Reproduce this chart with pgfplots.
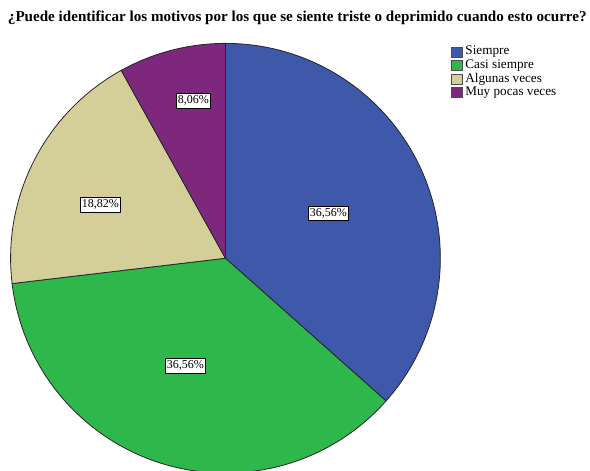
\documentclass[border=0pt]{standalone}
\usepackage{pgfplots}
\pgfplotsset{compat=1.18}
\usepackage{fontspec}
\setmainfont{Liberation Serif}
\definecolor{cSiempre}{RGB}{62,88,170}
\definecolor{cCasi}{RGB}{46,183,74}
\definecolor{cAlgunas}{RGB}{212,206,152}
\definecolor{cMuy}{RGB}{125,40,125}
% data: percentages
\def\pA{36.56}\def\pB{36.56}\def\pC{18.82}\def\pD{8.06}
\def\cx{225.6}\def\cy{212.6}\def\R{215}
\newcommand{\slice}[3]{%
  \filldraw[fill=#3, draw=black!85, line width=0.8pt, line join=round]
    (axis cs:\cx,\cy) -- ++(#1:\R pt)
    arc[start angle=#1, delta angle=-3.6*#2, radius=\R pt] -- cycle;}
\begin{document}
\begin{tikzpicture}
\pgfmathsetmacro{\aA}{90}
\pgfmathsetmacro{\aB}{90-3.6*\pA}
\pgfmathsetmacro{\aC}{\aB-3.6*\pB}
\pgfmathsetmacro{\aD}{\aC-3.6*\pC}
\begin{axis}[x=1pt, y=1pt, xmin=0, xmax=590, ymin=0, ymax=471,
  hide axis, clip=false]
\begin{scope}
\clip (axis cs:0,0) rectangle (axis cs:590,471);
\slice{\aA}{\pA}{cSiempre}
\slice{\aB}{\pB}{cCasi}
\slice{\aC}{\pC}{cAlgunas}
\slice{\aD}{\pD}{cMuy}
\end{scope}
% labels
\tikzset{lab/.style={draw=black, fill=white, line width=0.7pt, inner xsep=1.6pt, inner ysep=2.2pt, font=\fontsize{12}{13}\selectfont}}
\node[lab] at (axis cs:328.5,257.5) {36,56\%};
\node[lab] at (axis cs:185.5,105) {36,56\%};
\node[lab] at (axis cs:100.5,266) {18,82\%};
\node[lab] at (axis cs:193.5,370) {8,06\%};
% title
\node[anchor=base] at (axis cs:297.5,449.5) {\resizebox{579pt}{!}{\bfseries ¿Puede identificar los motivos por los que se siente triste o deprimido cuando esto ocurre?}};
% legend
\tikzset{leg/.style={anchor=west, inner sep=0pt, font=\fontsize{13.2}{14}\selectfont}}
\filldraw[fill=cSiempre, draw=black!70, line width=0.6pt] (axis cs:451.5,414) rectangle (axis cs:462.5,424);
\node[leg] at (axis cs:465.5,419) {Siempre};
\filldraw[fill=cCasi, draw=black!70, line width=0.6pt] (axis cs:451.5,400.5) rectangle (axis cs:462.5,410.5);
\node[leg] at (axis cs:465.5,405.5) {Casi siempre};
\filldraw[fill=cAlgunas, draw=black!70, line width=0.6pt] (axis cs:451.5,387) rectangle (axis cs:462.5,397);
\node[leg] at (axis cs:465.5,392) {Algunas veces};
\filldraw[fill=cMuy, draw=black!70, line width=0.6pt] (axis cs:451.5,373.5) rectangle (axis cs:462.5,383.5);
\node[leg] at (axis cs:465.5,378.5) {Muy pocas veces};
\end{axis}
\end{tikzpicture}
\end{document}
